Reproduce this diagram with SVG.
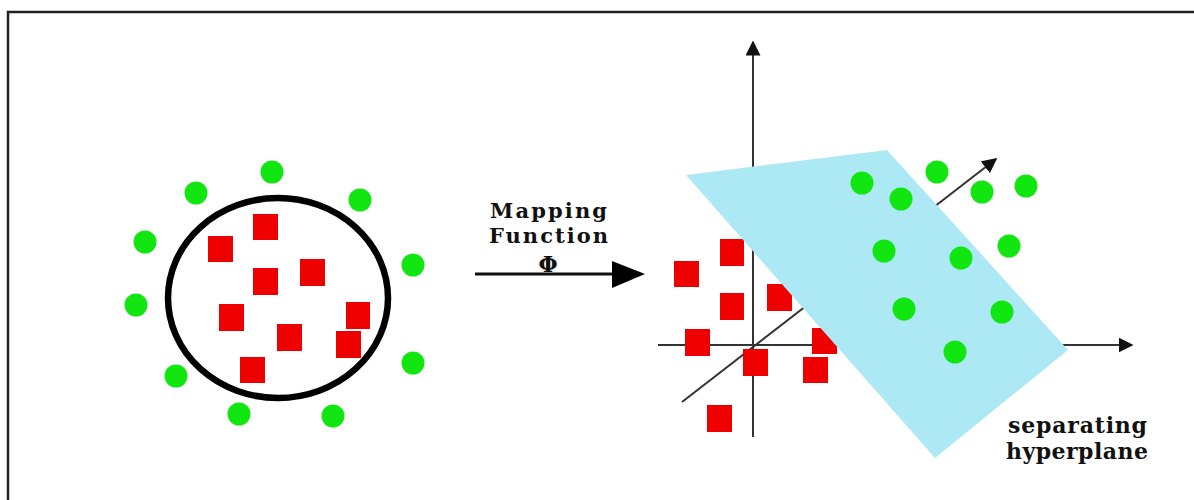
<svg xmlns="http://www.w3.org/2000/svg" width="1194" height="500" viewBox="0 0 1194 500">
  <style>
    .sq { fill: #ee0000; }
    .dot { fill: #11e611; }
    .ax { stroke: #333; stroke-width: 2; fill: none; }
    .lbl { font-family: "DejaVu Serif", "Liberation Serif", serif; font-weight: bold; fill: #111; }
  </style>
  <defs>
    <marker id="ah2" viewBox="0 0 10 10" refX="9" refY="5" markerWidth="15" markerHeight="15" markerUnits="userSpaceOnUse" orient="auto">
      <path d="M0,0 L10,5 L0,10 Z" fill="#111"/>
    </marker>
  </defs>
  <rect width="1194" height="500" fill="#ffffff"/>
  <g id="frame" stroke="#222" stroke-width="2.5" fill="none">
    <path d="M8,500 L8,12 L1194,12"/>
  </g>

  <g id="left-figure">
    <ellipse cx="278" cy="298" rx="110" ry="100" fill="none" stroke="#000" stroke-width="6.5"/>
    <rect class="sq" x="253" y="214" width="25" height="26"/>
    <rect class="sq" x="208" y="236" width="25" height="26"/>
    <rect class="sq" x="253" y="268" width="25" height="27"/>
    <rect class="sq" x="300" y="259" width="25" height="27"/>
    <rect class="sq" x="219" y="304" width="25" height="27"/>
    <rect class="sq" x="346" y="302" width="24" height="27"/>
    <rect class="sq" x="277" y="324" width="25" height="27"/>
    <rect class="sq" x="336" y="331" width="25" height="27"/>
    <rect class="sq" x="240" y="357" width="25" height="26"/>
    <circle class="dot" cx="272" cy="172" r="11.5"/>
    <circle class="dot" cx="196" cy="193" r="11.5"/>
    <circle class="dot" cx="360" cy="200" r="11.5"/>
    <circle class="dot" cx="145" cy="242" r="11.5"/>
    <circle class="dot" cx="413" cy="265" r="11.5"/>
    <circle class="dot" cx="136" cy="305" r="11.5"/>
    <circle class="dot" cx="413" cy="363" r="11.5"/>
    <circle class="dot" cx="176" cy="376" r="11.5"/>
    <circle class="dot" cx="239" cy="414" r="11.5"/>
    <circle class="dot" cx="333" cy="416" r="11.5"/>
  </g>

  <g id="mapping">
    <line x1="475" y1="274" x2="614" y2="274" stroke="#111" stroke-width="3"/>
    <path d="M612,261 L645,274 L612,288 Z" fill="#000"/>
    <text class="lbl" x="490" y="218" font-size="21" textLength="117" lengthAdjust="spacing">Mapping</text>
    <text class="lbl" x="489" y="243" font-size="21" textLength="119" lengthAdjust="spacing">Function</text>
    <text class="lbl" x="548" y="272" font-size="22" text-anchor="middle">Φ</text>
  </g>

  <g id="connectors">
    <line class="ax" x1="753" y1="437" x2="753" y2="42" marker-end="url(#ah2)"/>
    <line class="ax" x1="658" y1="345" x2="1132" y2="345" marker-end="url(#ah2)"/>
    <line class="ax" x1="682" y1="402" x2="996" y2="159" marker-end="url(#ah2)"/>
  </g>

  <g id="red-points">
    <rect class="sq" x="720" y="239" width="24" height="27"/>
    <rect class="sq" x="674" y="261" width="25" height="26"/>
    <rect class="sq" x="720" y="293" width="24" height="27"/>
    <rect class="sq" x="767" y="284" width="25" height="27"/>
    <rect class="sq" x="685" y="329" width="25" height="27"/>
    <rect class="sq" x="743" y="349" width="25" height="27"/>
    <rect class="sq" x="812" y="328" width="25" height="26"/>
    <rect class="sq" x="803" y="357" width="25" height="26"/>
    <rect class="sq" x="707" y="405" width="25" height="27"/>
  </g>

  <g id="hyperplane">
    <polygon points="686,175 887,150 1068,350 935,458" fill="#ade9f5"/>
  </g>

  <g id="green-points">
    <circle class="dot" cx="862" cy="183" r="11.5"/>
    <circle class="dot" cx="937" cy="172" r="11.5"/>
    <circle class="dot" cx="901" cy="199" r="11.5"/>
    <circle class="dot" cx="982" cy="192" r="11.5"/>
    <circle class="dot" cx="1026" cy="186" r="11.5"/>
    <circle class="dot" cx="884" cy="251" r="11.5"/>
    <circle class="dot" cx="961" cy="258" r="11.5"/>
    <circle class="dot" cx="1009" cy="246" r="11.5"/>
    <circle class="dot" cx="904" cy="309" r="11.5"/>
    <circle class="dot" cx="1002" cy="312" r="11.5"/>
    <circle class="dot" cx="955" cy="352" r="11.5"/>
  </g>

  <g id="hyperplane-label">
    <text class="lbl" x="1008" y="433" font-size="22" textLength="139" lengthAdjust="spacing">separating</text>
    <text class="lbl" x="1006" y="459" font-size="22" textLength="142" lengthAdjust="spacing">hyperplane</text>
  </g>
</svg>
